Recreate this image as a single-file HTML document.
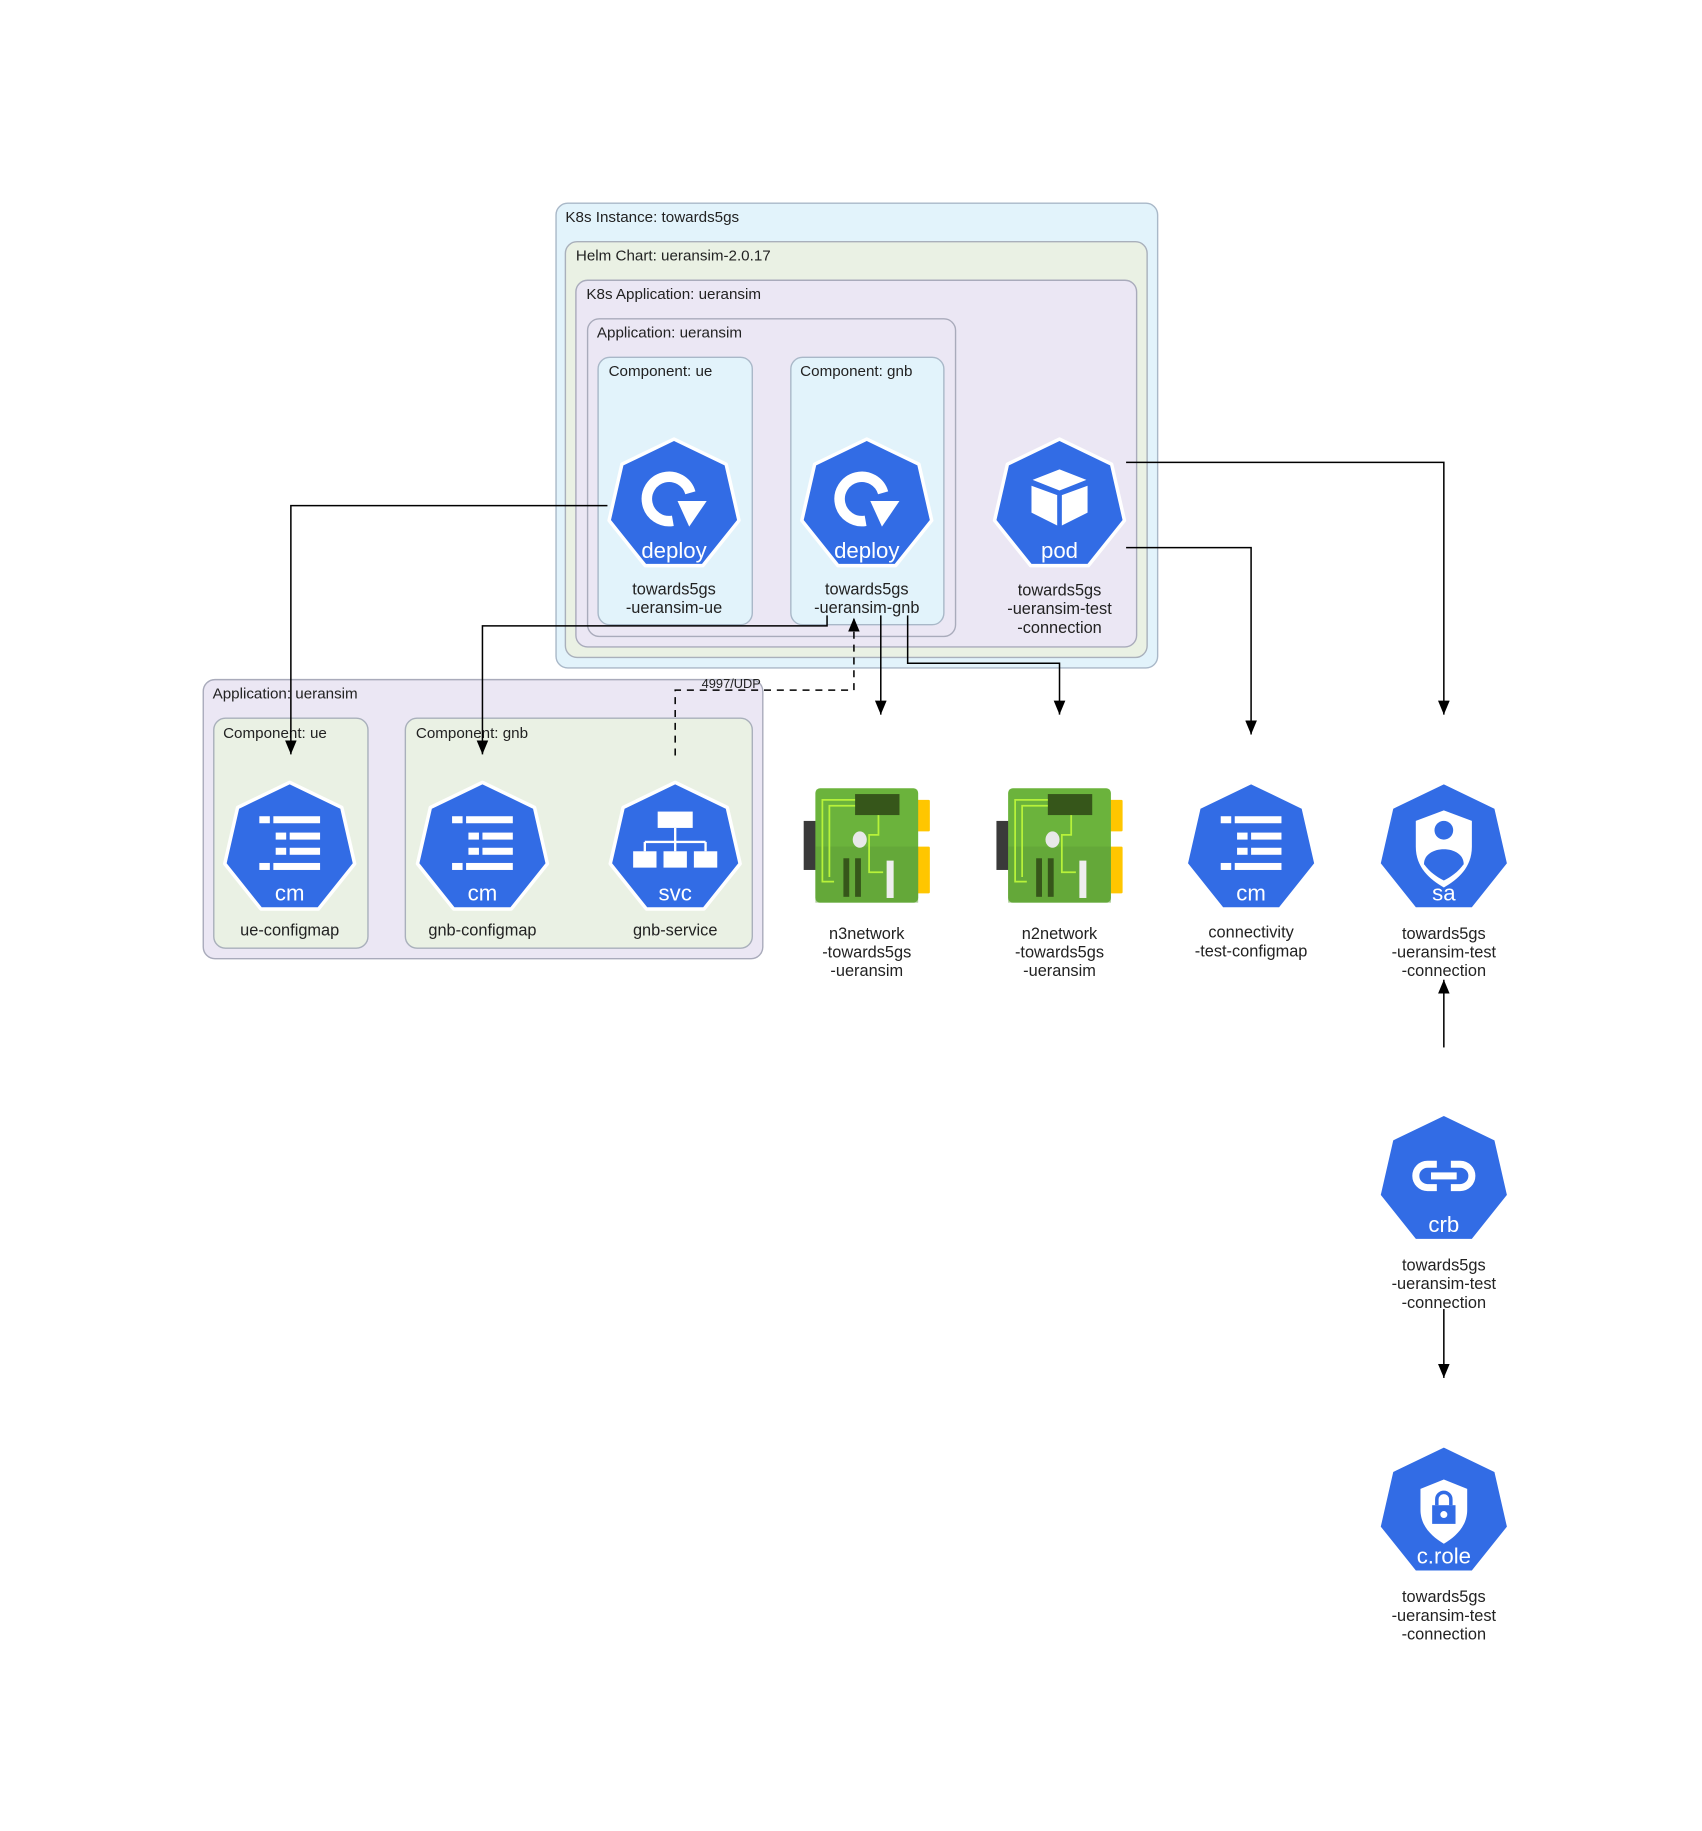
<!DOCTYPE html>
<html><head><meta charset="utf-8"><style>
html,body{margin:0;padding:0;background:#fff;}
svg{display:block;}
text{font-family:"Liberation Sans",sans-serif;fill:#222;}
</style></head><body>
<svg width="1702" height="1831" viewBox="0 0 1457 1568" preserveAspectRatio="none" xmlns="http://www.w3.org/2000/svg">
<defs>
<polygon id="hep" points="0,-57 44.6,-35.5 55.6,12.7 24.7,51.4 -24.7,51.4 -55.6,12.7 -44.6,-35.5" fill="#326ce5" stroke="#fff" stroke-width="3" stroke-linejoin="round"/>
<marker id="ar" markerWidth="12" markerHeight="10" refX="12" refY="5" orient="auto" markerUnits="userSpaceOnUse" viewBox="0 0 12 10"><path d="M0,0 L12,5 L0,10 z" fill="#000"/></marker>
<g id="net">
<rect x="-54" y="-22" width="12" height="42" fill="#3a3a3a"/>
<rect x="42" y="-40" width="12" height="27" fill="#ffc600" rx="1"/>
<rect x="42" y="0" width="12" height="40" fill="#ffc600" rx="1"/>
<rect x="-44" y="-50" width="88" height="98" rx="4" fill="#6bb33c"/>
<rect x="-44" y="0" width="88" height="48" fill="#5e9d35" opacity="0.5"/>
<rect x="-10" y="-45" width="38" height="18" fill="#36561a"/>
<path d="M-10,-40 H-38 V30 H-28 M-10,-35 H-32 V26 M10,-27 V-10 H2 V22 H14" stroke="#b7f23a" stroke-width="1.5" fill="none"/>
<ellipse cx="-6" cy="-6" rx="6" ry="7" fill="#e8e8e8"/>
<rect x="-20" y="10" width="5" height="33" fill="#36561a"/>
<rect x="-10" y="10" width="5" height="33" fill="#36561a"/>
<rect x="17" y="12" width="6" height="32" fill="#eee"/>
</g>
<g id="cmicon" fill="#fff">
<rect x="-26" y="-28" width="9" height="6"/><rect x="-14" y="-28" width="40" height="6"/>
<rect x="-12" y="-14" width="9" height="6"/><rect x="0" y="-14" width="26" height="6"/>
<rect x="-12" y="-1" width="9" height="6"/><rect x="0" y="-1" width="26" height="6"/>
<rect x="-26" y="12" width="9" height="6"/><rect x="-14" y="12" width="40" height="6"/>
</g>
<g id="depicon">
<path d="M14,-11 A19,19 0 1 0 -1,13" stroke="#fff" stroke-width="9" fill="none"/>
<polygon points="3,-4 28,-4 13,18" fill="#fff"/>
</g>
</defs>

<rect x="476" y="174" width="515" height="398" rx="10" fill="#e2f3fb" stroke="#a9b8c8" stroke-width="1.2"/>
<text x="484" y="190" font-size="13">K8s Instance: towards5gs</text>
<rect x="484" y="207" width="498" height="356" rx="10" fill="#eaf1e4" stroke="#a9b0bb" stroke-width="1.2"/>
<text x="493" y="223" font-size="13">Helm Chart: ueransim-2.0.17</text>
<rect x="493" y="240" width="480" height="314" rx="10" fill="#ebe7f4" stroke="#a9abbb" stroke-width="1.2"/>
<text x="502" y="256" font-size="13">K8s Application: ueransim</text>
<rect x="503" y="273" width="315" height="272" rx="10" fill="#ebe7f4" stroke="#a9abbb" stroke-width="1.2"/>
<text x="511" y="289" font-size="13">Application: ueransim</text>
<rect x="512" y="306" width="132" height="229" rx="10" fill="#e2f3fb" stroke="#a9b8c8" stroke-width="1.2"/>
<text x="521" y="322" font-size="13">Component: ue</text>
<rect x="677" y="306" width="131" height="229" rx="10" fill="#e2f3fb" stroke="#a9b8c8" stroke-width="1.2"/>
<text x="685" y="322" font-size="13">Component: gnb</text>

<rect x="174" y="582" width="479" height="239" rx="10" fill="#ebe7f4" stroke="#a9abbb" stroke-width="1.2"/>
<text x="182" y="598" font-size="13">Application: ueransim</text>
<rect x="183" y="615" width="132" height="197" rx="10" fill="#eaf1e4" stroke="#a9b0bb" stroke-width="1.2"/>
<text x="191" y="632" font-size="13">Component: ue</text>
<rect x="347" y="615" width="297" height="197" rx="10" fill="#eaf1e4" stroke="#a9b0bb" stroke-width="1.2"/>
<text x="356" y="632" font-size="13">Component: gnb</text>

<g stroke="#000" stroke-width="1.3" fill="none">
<path d="M520,433 H249 V646" marker-end="url(#ar)"/>
<path d="M708,527 V536 H413 V646" marker-end="url(#ar)"/>
<path d="M578,647 V591 H731 V529" stroke-dasharray="6,5" marker-end="url(#ar)"/>
<path d="M754,527 V612" marker-end="url(#ar)"/>
<path d="M777,527 V568 H907 V612" marker-end="url(#ar)"/>
<path d="M964,469 H1071 V629" marker-end="url(#ar)"/>
<path d="M964,396 H1236 V612" marker-end="url(#ar)"/>
<path d="M1236,897 V839" marker-end="url(#ar)"/>
<path d="M1236,1121 V1180" marker-end="url(#ar)"/>
</g>
<text x="626" y="589" font-size="11" text-anchor="middle">4997/UDP</text>

<g transform="translate(577,433)"><use href="#hep"/><use href="#depicon"/><text y="45" font-size="19" text-anchor="middle" style="fill:#fff">deploy</text></g>
<text x="577" y="509" font-size="14" text-anchor="middle">towards5gs</text>
<text x="577" y="525" font-size="14" text-anchor="middle">-ueransim-ue</text>
<g transform="translate(742,433)"><use href="#hep"/><use href="#depicon"/><text y="45" font-size="19" text-anchor="middle" style="fill:#fff">deploy</text></g>
<text x="742" y="509" font-size="14" text-anchor="middle">towards5gs</text>
<text x="742" y="525" font-size="14" text-anchor="middle">-ueransim-gnb</text>
<g transform="translate(907,433)"><use href="#hep"/>
<polygon points="0,-31 23,-22 0,-13 -23,-22" fill="#fff"/>
<polygon points="-24,-17 -2,-9 -2,17 -24,6" fill="#fff"/>
<polygon points="2,-9 24,-17 24,6 2,17" fill="#fff"/>
<text y="45" font-size="19" text-anchor="middle" style="fill:#fff">pod</text></g>
<text x="907" y="510" font-size="14" text-anchor="middle">towards5gs</text>
<text x="907" y="526" font-size="14" text-anchor="middle">-ueransim-test</text>
<text x="907" y="542" font-size="14" text-anchor="middle">-connection</text>

<g transform="translate(248,727)"><use href="#hep"/><use href="#cmicon"/><text y="44" font-size="19" text-anchor="middle" style="fill:#fff">cm</text></g>
<text x="248" y="801" font-size="14" text-anchor="middle">ue-configmap</text>
<g transform="translate(413,727)"><use href="#hep"/><use href="#cmicon"/><text y="44" font-size="19" text-anchor="middle" style="fill:#fff">cm</text></g>
<text x="413" y="801" font-size="14" text-anchor="middle">gnb-configmap</text>
<g transform="translate(578,727)"><use href="#hep"/>
<g fill="#fff"><rect x="-15" y="-32" width="30" height="14"/><rect x="-1" y="-18" width="2" height="12"/><rect x="-26" y="-7" width="52" height="2"/>
<rect x="-27" y="-6" width="2" height="8"/><rect x="-1" y="-6" width="2" height="8"/><rect x="25" y="-6" width="2" height="8"/>
<rect x="-36" y="2" width="20" height="14"/><rect x="-10" y="2" width="20" height="14"/><rect x="16" y="2" width="20" height="14"/></g>
<text y="44" font-size="19" text-anchor="middle" style="fill:#fff">svc</text></g>
<text x="578" y="801" font-size="14" text-anchor="middle">gnb-service</text>

<g transform="translate(742,725)"><use href="#net"/></g>
<text x="742" y="804" font-size="14" text-anchor="middle">n3network</text>
<text x="742" y="820" font-size="14" text-anchor="middle">-towards5gs</text>
<text x="742" y="836" font-size="14" text-anchor="middle">-ueransim</text>
<g transform="translate(907,725)"><use href="#net"/></g>
<text x="907" y="804" font-size="14" text-anchor="middle">n2network</text>
<text x="907" y="820" font-size="14" text-anchor="middle">-towards5gs</text>
<text x="907" y="836" font-size="14" text-anchor="middle">-ueransim</text>

<g transform="translate(1071,727)"><use href="#hep"/><use href="#cmicon"/><text y="44" font-size="19" text-anchor="middle" style="fill:#fff">cm</text></g>
<text x="1071" y="803" font-size="14" text-anchor="middle">connectivity</text>
<text x="1071" y="819" font-size="14" text-anchor="middle">-test-configmap</text>

<g transform="translate(1236,727)"><use href="#hep"/>
<path d="M0,-33 L24,-24 V-2 C24,16 12,26 0,33 C-12,26 -24,16 -24,-2 V-24 Z" fill="#fff"/>
<circle cx="0" cy="-16" r="8" fill="#326ce5"/>
<path d="M-17,13 C-17,-4 17,-4 17,13 C12,20 6,24 0,27 C-6,24 -12,20 -17,13 Z" fill="#326ce5"/>
<text y="44" font-size="19" text-anchor="middle" style="fill:#fff">sa</text></g>
<text x="1236" y="804" font-size="14" text-anchor="middle">towards5gs</text>
<text x="1236" y="820" font-size="14" text-anchor="middle">-ueransim-test</text>
<text x="1236" y="836" font-size="14" text-anchor="middle">-connection</text>

<g transform="translate(1236,1011)"><use href="#hep"/>
<path d="M-6,-14 H-14 A10,10 0 0 0 -14,6 H-6 M6,-14 H14 A10,10 0 0 1 14,6 H6" stroke="#fff" stroke-width="6" fill="none"/>
<rect x="-11" y="-7" width="22" height="6" fill="#fff"/>
<text y="44" font-size="19" text-anchor="middle" style="fill:#fff">crb</text></g>
<text x="1236" y="1088" font-size="14" text-anchor="middle">towards5gs</text>
<text x="1236" y="1104" font-size="14" text-anchor="middle">-ueransim-test</text>
<text x="1236" y="1120" font-size="14" text-anchor="middle">-connection</text>

<g transform="translate(1236,1295)"><use href="#hep"/>
<path d="M0,-28 L20,-20 V-2 C20,12 10,21 0,27 C-10,21 -20,12 -20,-2 V-20 Z" fill="#fff"/>
<path d="M-6,-6 V-11 A6,6 0 0 1 6,-11 V-6" stroke="#326ce5" stroke-width="3" fill="none"/>
<rect x="-10" y="-6" width="20" height="16" fill="#326ce5"/>
<circle cx="0" cy="2" r="3" fill="#fff"/>
<text y="44" font-size="19" text-anchor="middle" style="fill:#fff">c.role</text></g>
<text x="1236" y="1372" font-size="14" text-anchor="middle">towards5gs</text>
<text x="1236" y="1388" font-size="14" text-anchor="middle">-ueransim-test</text>
<text x="1236" y="1404" font-size="14" text-anchor="middle">-connection</text>
</svg>
</body></html>
